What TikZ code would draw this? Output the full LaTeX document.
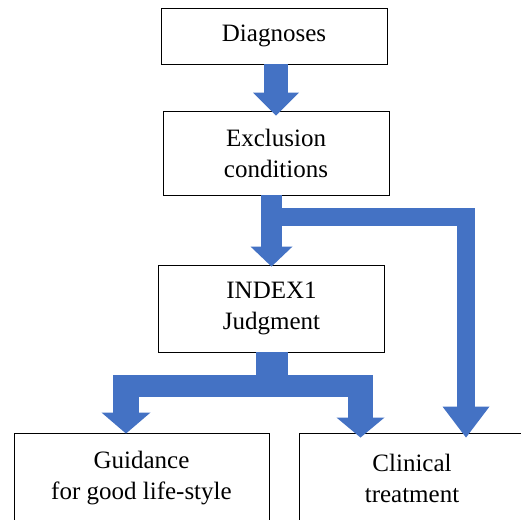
\documentclass[tikz,border=0pt]{standalone}
\usepackage{fontspec}
\setmainfont{Liberation Serif}
\usetikzlibrary{arrows.meta,calc}
\definecolor{flowblue}{HTML}{4472C4}
\tikzset{
  box/.style={draw=black, line width=0.9pt, minimum width=226pt, inner sep=0pt,
    align=center, font=\fontsize{25}{31}\selectfont},
  band/.style={draw=flowblue, line width=#1},
  flow/.style n args={3}{draw=flowblue, line width=#1, line join=miter,
    -{Triangle[width=#2,length=#3,line width=0pt]}},
}
\begin{document}
\begin{tikzpicture}[x=1pt,y=-1pt]
\useasboundingbox (0,0) rectangle (521,519);
\clip (0,0) rectangle (521,519);

\node[box, minimum height=56pt] (diag) at (274,36) {Diagnoses};
\node[box, minimum height=84pt] (excl) at (276,153) {Exclusion\\conditions};
\node[box, minimum height=87pt] (judge) at (271.5,308.5) {INDEX1\\Judgment};
\node[box, minimum width=255pt, minimum height=90pt] (guide) at (141.5,478) {Guidance\\for good life-style};
\node[box, minimum height=90pt] (treat) at (412,478) {Clinical\\treatment};

\coordinate (fork) at (271.5,217);
\coordinate (bend) at (466,217);
\coordinate (split) at (271.5,386);
\coordinate (splitL) at (126,386);
\coordinate (splitR) at (360.5,386);

\draw[flow={24pt}{46pt}{23pt}, shorten >=-5pt] (excl.north |- diag.south) -- (excl.north);
\draw[flow={21pt}{42pt}{20pt}, shorten >=-2pt] (judge.north |- excl.south) -- (judge.north);
\draw[flow={18pt}{47pt}{31pt}, shorten >=-5pt] (fork) -- (bend) -- (bend |- treat.north);

\draw[band=32pt] (judge.south) -- (split);
\draw[band=22pt] (splitL) -- (splitR);
\draw[flow={26pt}{49pt}{21pt}, shorten >=-1pt] ($(splitL)+(0,-11)$) -- (splitL |- guide.north);
\draw[flow={25pt}{48pt}{20pt}, shorten >=-5pt] ($(splitR)+(0,-11)$) -- (splitR |- treat.north);

\end{tikzpicture}
\end{document}
